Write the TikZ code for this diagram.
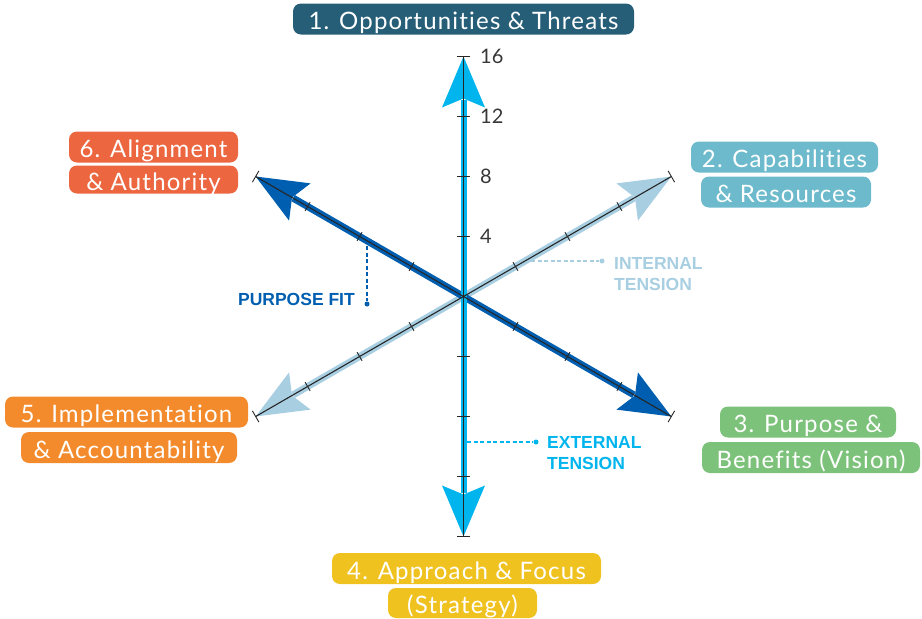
\documentclass[tikz,border=0pt]{standalone}
\usepackage{fontspec}
\setmainfont{Lato}
\newfontfamily\boxfont{Lato}[LetterSpace=5, Ligatures={NoCommon,NoRare}]
\newfontfamily\tagfont{Liberation Sans}
\usetikzlibrary{calc}
\definecolor{cOne}{RGB}{38,94,120}
\definecolor{cTwo}{RGB}{108,186,204}
\definecolor{cThree}{RGB}{125,194,122}
\definecolor{cFour}{RGB}{240,194,32}
\definecolor{cFive}{RGB}{243,139,44}
\definecolor{cSix}{RGB}{236,102,64}
\definecolor{axCyan}{RGB}{0,181,238}
\definecolor{axDark}{RGB}{0,94,176}
\definecolor{axLight}{RGB}{168,206,226}
\definecolor{numGray}{RGB}{55,55,55}
\begin{document}
\begin{tikzpicture}[x=1pt,y=-1pt,
  lbl/.style={rounded corners=8pt, text=white, font=\boxfont\fontsize{24}{24}\selectfont,
    minimum height=31pt, inner xsep=4pt, inner ysep=0pt, anchor=center,
    text height=21pt, text depth=0pt},
  stripe/.style={line width=7pt, line cap=butt},
  axline/.style={line width=1.1pt, draw=black!85},
  tickmark/.style={line width=0.9pt, draw=black!85},
  leader/.style={line width=1.6pt, dash pattern=on 4pt off 2.5pt},
  tagtxt/.style={font=\tagfont\bfseries\fontsize{17.5}{21}\selectfont, align=left, inner sep=0pt},
  numtxt/.style={font=\fontsize{20}{20}\selectfont, text=numGray, anchor=west, inner sep=0pt}]
\useasboundingbox (0,0) rectangle (922,619);

\coordinate (C) at (463.5,296.5);
\coordinate (T) at (463.5,56.5);
\coordinate (B) at (463.5,536.5);
\coordinate (UL) at (255.65,176.5);
\coordinate (LR) at (671.35,416.5);
\coordinate (UR) at (671.35,176.5);
\coordinate (LL) at (255.65,416.5);

% stripes and arrowheads
\newcommand\axhead[2]{%
  \begin{scope}[shift={(C)},rotate=#1]
    \fill[#2] (240,0) -- (189,21.5) -- (198,0) -- (189,-21.5) -- cycle;
  \end{scope}}
\draw[stripe, axLight] ($(C)!0.82!(UR)$) -- ($(C)!0.82!(LL)$);
\axhead{30}{axLight}\axhead{210}{axLight}
\draw[stripe, axDark] ($(C)!0.82!(UL)$) -- ($(C)!0.82!(LR)$);
\axhead{150}{axDark}\axhead{-30}{axDark}
\draw[stripe, line width=6pt, axCyan] ($(C)!0.82!(T)$) -- ($(C)!0.82!(B)$);
\axhead{90}{axCyan}\axhead{-90}{axCyan}

% black axis lines
\draw[axline] (UR) -- (LL);
\draw[axline] (UL) -- (LR);
\draw[axline] (T) -- (B);

% ticks
\foreach \a/\h in {30/5,210/5,150/5,-30/5,90/6.5,-90/6.5}{
  \begin{scope}[shift={(C)},rotate=\a]
    \foreach \d in {60,120,180}{\draw[tickmark] (\d,-\h) -- (\d,\h);}
    \draw[tickmark] (240,-6.5) -- (240,6.5);
  \end{scope}}

% scale numbers
\node[numtxt] (n16) at (480,56) {16};
\node[numtxt] (n12) at (480,116) {12};
\node[numtxt] (n8) at (480,176) {8};
\node[numtxt] (n4) at (480,236) {4};

% leaders
\coordinate (pfA) at (367,246);
\node[circle, fill=axDark, inner sep=0pt, minimum size=5pt] (pfDot) at (367,304) {};
\draw[leader, axDark] (pfA) -- (pfDot);
\node[tagtxt, text=axDark, anchor=east] (pf) at (355,299.5) {PURPOSE FIT};

\coordinate (itA) at (531,261);
\node[circle, fill=axLight, inner sep=0pt, minimum size=5pt] (itDot) at (602,261) {};
\draw[leader, axLight] (itA) -- (itDot);
\node[tagtxt, text=axLight, anchor=north west] (it) at (614,257) {INTERNAL\\TENSION};

\coordinate (etA) at (467,442);
\node[circle, fill=axCyan, inner sep=0pt, minimum size=5pt] (etDot) at (536,442) {};
\draw[leader, axCyan] (etA) -- (etDot);
\node[tagtxt, text=axCyan, anchor=north west] (et) at (547,436) {EXTERNAL\\TENSION};

% labels
\node[lbl, fill=cOne, minimum width=341pt] (l1) at (463.5,19) {1. Opportunities \& Threats};
\node[lbl, fill=cTwo, minimum width=187pt] (l2a) at (784.5,157) {2. Capabilities};
\node[lbl, fill=cTwo, minimum width=170pt] (l2b) at (786,192) {\& Resources};
\node[lbl, fill=cThree, minimum width=176pt] (l3a) at (808,422) {3. Purpose \&};
\node[lbl, fill=cThree, minimum width=218pt] (l3b) at (811,457.5) {Benefits (Vision)};
\node[lbl, fill=cFour, minimum width=269pt] (l4a) at (466.5,568.5) {4. Approach \& Focus};
\node[lbl, fill=cFour, minimum width=149pt, minimum height=30pt] (l4b) at (462.5,603) {(Strategy)};
\node[lbl, fill=cFive, minimum width=243pt] (l5a) at (126.5,412) {5. Implementation};
\node[lbl, fill=cFive, minimum width=216pt] (l5b) at (129,447.5) {\& Accountability};
\node[lbl, fill=cSix, minimum width=169pt] (l6a) at (153.5,147) {6. Alignment};
\node[lbl, fill=cSix, minimum width=169pt, minimum height=28pt] (l6b) at (153.5,179.5) {\& Authority};
\end{tikzpicture}
\end{document}
